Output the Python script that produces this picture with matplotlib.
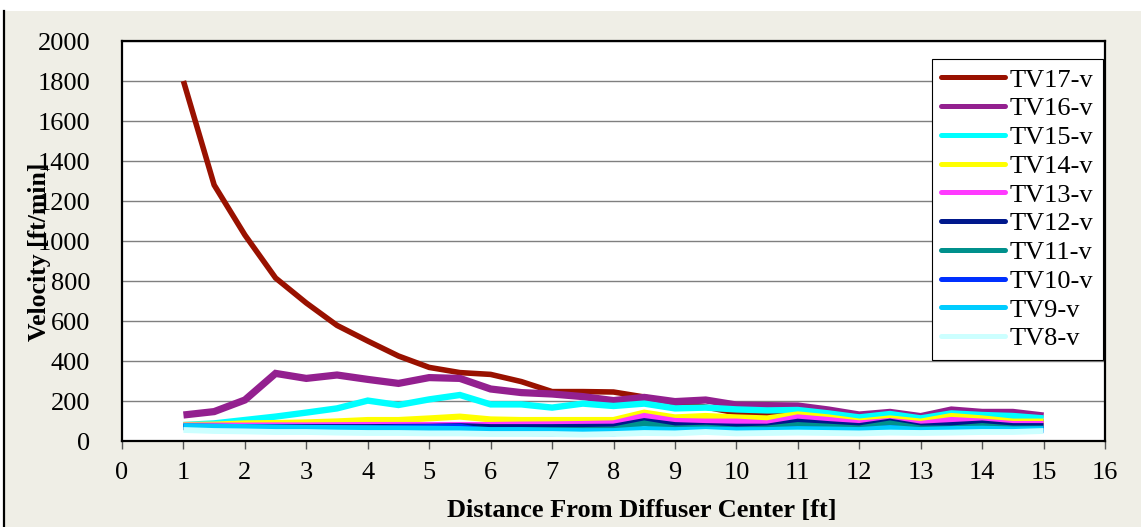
import matplotlib
matplotlib.use("Agg")
import matplotlib.pyplot as plt
from matplotlib.lines import Line2D
from matplotlib.patches import Rectangle

plt.rcParams["font.family"] = ["Liberation Serif", "DejaVu Serif"]

# distance from diffuser center [ft]
distance = [1, 1.5, 2, 2.5, 3, 3.5, 4, 4.5, 5, 5.5, 6, 6.5, 7, 7.5, 8,
            8.5, 9, 9.5, 10, 10.5, 11, 11.5, 12, 12.5, 13, 13.5, 14, 14.5, 15]

tv17 = [1800, 1280, 1030, 815, 690, 578, 500, 425, 368, 342, 333, 297, 247, 247, 245,
        220, 190, 170, 140, 135, 130, 120, 100, 110, 95, 110, 105, 100, 95]
tv16 = [130, 147, 205, 338, 313, 330, 308, 288, 317, 313, 260, 242, 235, 222, 202,
        218, 197, 205, 180, 177, 175, 155, 130, 143, 122, 155, 143, 143, 125]
tv15 = [80, 88, 105, 122, 142, 163, 202, 180, 208, 230, 183, 183, 167, 187, 175,
        187, 163, 167, 158, 153, 155, 138, 118, 135, 113, 138, 130, 125, 113]
tv14 = [80, 82, 88, 90, 93, 98, 105, 105, 113, 122, 108, 105, 105, 105, 105,
        142, 118, 125, 118, 113, 133, 118, 97, 113, 97, 125, 113, 97, 97]
tv13 = [77, 77, 77, 78, 78, 79, 80, 80, 80, 80, 80, 82, 83, 85, 88,
        125, 100, 97, 97, 88, 118, 105, 88, 100, 85, 105, 97, 85, 85]
tv12 = [72, 71, 70, 70, 70, 70, 70, 71, 72, 75, 70, 70, 70, 71, 72,
        100, 80, 75, 72, 72, 97, 85, 75, 97, 72, 80, 88, 75, 75]
tv11 = [68, 67, 66, 65, 65, 64, 64, 63, 63, 62, 55, 55, 55, 55, 58,
        88, 63, 67, 58, 63, 80, 72, 63, 88, 63, 63, 75, 63, 63]
tv10 = [72, 70, 68, 66, 65, 65, 63, 68, 70, 72, 45, 40, 38, 35, 38,
        55, 50, 55, 50, 50, 60, 55, 50, 65, 50, 55, 60, 50, 55]
tv9 = [75, 72, 70, 68, 66, 65, 64, 63, 62, 60, 55, 55, 52, 50, 50,
       60, 55, 58, 55, 55, 60, 58, 55, 65, 55, 60, 62, 58, 60]
tv8 = [55, 50, 48, 45, 45, 42, 40, 40, 38, 38, 35, 35, 35, 32, 35,
       40, 38, 45, 38, 40, 42, 40, 38, 42, 40, 42, 45, 45, 50]

series = [
    ("TV17-v", tv17, "#991100", 4.0),
    ("TV16-v", tv16, "#93208F", 5.2),
    ("TV15-v", tv15, "#00FFFF", 4.6),
    ("TV14-v", tv14, "#FFFF00", 4.4),
    ("TV13-v", tv13, "#FF3AFF", 4.4),
    ("TV12-v", tv12, "#00188C", 4.2),
    ("TV11-v", tv11, "#00908C", 4.2),
    ("TV10-v", tv10, "#0030FF", 4.2),
    ("TV9-v", tv9, "#00CCFF", 4.2),
    ("TV8-v", tv8, "#CCFFFF", 4.2),
]

W, H = 1141, 527
fig = plt.figure(figsize=(W / 100, H / 100), dpi=100, facecolor="white")

# beige chart area with a black edge on the left
fig.patches.append(Rectangle((4 / W, 0), 1 - 4 / W, 1 - 11 / H, transform=fig.transFigure,
                             facecolor="#EFEEE6", edgecolor="none", zorder=-2))
fig.add_artist(Line2D([4 / W, 4 / W], [0, 1 - 11 / H], transform=fig.transFigure,
                      color="black", linewidth=1.6))

ax = fig.add_axes([122 / W, 86 / H, 983 / W, 400 / H])
ax.set_facecolor("white")

for name, vals, color, lw in series:
    ax.plot(distance, vals, color=color, linewidth=lw, label=name,
            solid_joinstyle="miter", solid_capstyle="butt")

ax.set_xlim(0, 16)
ax.set_ylim(0, 2000)
ax.set_xticks(range(0, 17))
ax.set_yticks(range(0, 2001, 200))
ax.yaxis.grid(True, color="#7F7F7F", linewidth=1.0)
ax.set_axisbelow(True)
for s in ax.spines.values():
    s.set_linewidth(1.6)
    s.set_color("black")

ax.tick_params(axis="x", direction="out", length=6, width=1, color="#555555",
               labelsize=19, pad=9)
ax.tick_params(axis="y", direction="in", length=0, labelsize=19, pad=23)

fig.text(40 / W, 1 - 252 / H, "Velocity [ft/min]", rotation=90, fontsize=18.5,
         fontweight="bold", ha="center", va="center")
fig.text(642 / W, 1 - 511 / H, "Distance From Diffuser Center [ft]", fontsize=19,
         fontweight="bold", ha="center", va="center")

leg = ax.legend(loc="upper right", bbox_to_anchor=(1.0 - 2 / 983, (441 - 59) / 400),
                borderaxespad=0, fontsize=19, frameon=True, fancybox=False,
                edgecolor="black", framealpha=1, handlelength=2.4, handletextpad=0.2,
                labelspacing=0.2, borderpad=0.35)
leg.get_frame().set_linewidth(0.8)
for line in leg.get_lines():
    line.set_linewidth(3.6)
    line.set_solid_capstyle("round")

fig.savefig("out.png", dpi=100, facecolor=fig.get_facecolor())
